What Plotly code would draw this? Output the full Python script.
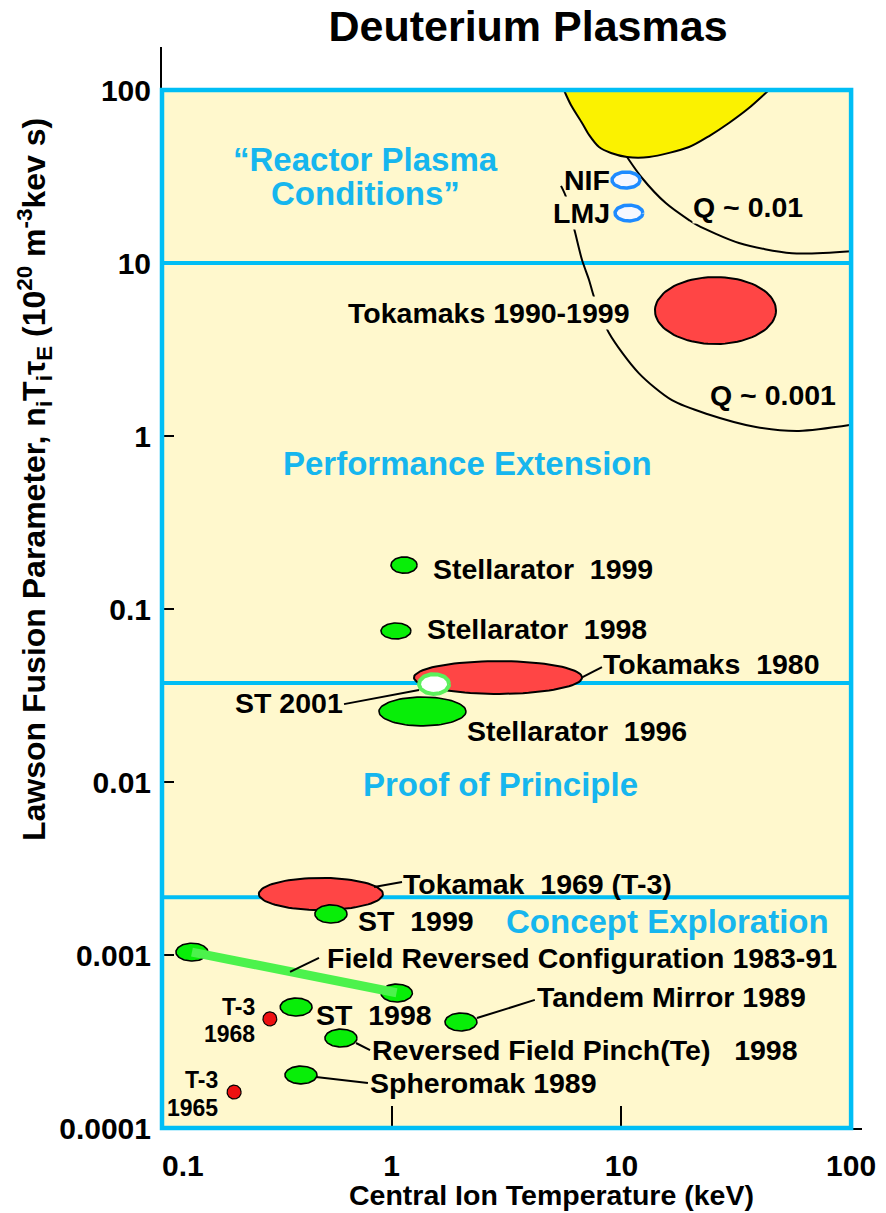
import numpy as np
import plotly.graph_objects as go

# ---------------- data ----------------
x_ticks = [0.1, 1, 10, 100]
x_tick_text = ["\u00a0\u00a0\u00a0\u00a0\u00a00.1", "1", "10", "100"]
y_ticks = [1e-4, 1e-3, 1e-2, 1e-1, 1, 10, 100]
y_tick_text = ["0.0001", "0.001", "0.01", "0.1", "1", "10", "100"]

# Lawson-parameter boundaries between the programme regions
region_bounds = [10, 0.0373, 0.00216]

# Experiments: temperature range (keV) and Lawson-parameter range
exp_names = ["Tokamaks 1990-1999", "Tokamaks 1980", "Stellarator 1999", "Stellarator 1998",
             "Stellarator 1996", "ST 2001", "Tokamak 1969 (T-3)", "ST 1999",
             "FRC 1983", "FRC 1991", "ST 1998", "Tandem Mirror 1989", "RFP 1998",
             "Spheromak 1989", "T-3 1968", "T-3 1965", "NIF", "LMJ"]
exp_kind = ["red", "red", "green", "green", "green", "ring_green", "red", "green",
            "green", "green", "green", "green", "green", "green", "dot", "dot",
            "ring_blue", "ring_blue"]
T_lo = [14.0, 1.25, 0.993, 0.898, 0.88, 1.315, 0.264, 0.463, 0.115, 0.898, 0.327, 1.706,
        0.512, 0.343, 0.275, 0.192, 9.1, 9.38]
T_hi = [47.1, 6.74, 1.29, 1.213, 2.106, 1.777, 0.916, 0.639, 0.1585, 1.23, 0.45, 2.35,
        0.706, 0.473, 0.316, 0.221, 12.05, 12.4]
L_lo = [3.4, 0.0323, 0.161, 0.0671, 0.0211, 0.0323, 0.00182, 0.00153, 0.000923, 0.000535,
        0.000444, 0.000364, 0.000294, 0.00018, 0.000389, 0.000147, 27.1, 17.5]
L_hi = [8.3, 0.050, 0.20, 0.083, 0.031, 0.042, 0.00279, 0.00195, 0.00117, 0.000679,
        0.000564, 0.000462, 0.000373, 0.000228, 0.000469, 0.000177, 33.6, 21.6]

# Field Reversed Configuration progression 1983-91
frc_T = [0.135, 1.05]
frc_L = [0.00104, 0.000605]

# Ignition-like region (yellow) boundary
ign_T = [5.62, 6.03, 6.74, 7.23, 7.99, 9.01, 10.58, 13.2, 19.7, 24.1, 29.4, 35.9, 43.9]
ign_L = [100, 81.9, 64.5, 55.0, 46.8, 43.2, 41.0, 41.0, 46.8, 54.2, 64.5, 78.7, 100]

# Q ~ 0.01 curve
q01_T = [10.58, 12.3, 15.6, 19.7, 21.3, 32.5, 55.3, 100]
q01_L = [41.0, 31.0, 22.2, 17.7, 16.6, 13.05, 11.4, 11.7]

# Q ~ 0.001 curve
q001_T = [5.46, 5.74, 6.28, 6.74, 7.23, 7.60, 8.83, 11.9, 16.6, 23.6, 38.5, 59.3, 100]
q001_L = [27.9, 24.1, 15.1, 10.4, 7.98, 6.36, 3.94, 2.31, 1.61, 1.34, 1.127, 1.07, 1.16]

# ---------------- styles ----------------
CYAN = "#00BEF5"
CYAN_TXT = "#16B6EE"
BG = "#FFF8CD"
FONT = "Liberation Sans, Arial, sans-serif"
PAGE_OFF = 8  # browser body margin

XR = [-1, -1 + 700 / 229.7]
YR = [-4, -4 + 1081 / 173.0]

fig = go.Figure()

# region boundary lines (below the marks)
for b in region_bounds:
    fig.add_trace(go.Scatter(x=[0.1, 100], y=[b, b], mode="lines",
                             line=dict(color=CYAN, width=4), hoverinfo="skip", showlegend=False))

# ignition region
fig.add_trace(go.Scatter(x=ign_T, y=ign_L, mode="lines", fill="toself", fillcolor="#FBF200",
                         line=dict(color="black", width=2, shape="spline", smoothing=0.8),
                         hoverinfo="skip", showlegend=False))
# Q curves
for qt, ql in [(q01_T, q01_L), (q001_T, q001_L)]:
    fig.add_trace(go.Scatter(x=qt, y=ql, mode="lines",
                             line=dict(color="black", width=2, shape="spline", smoothing=0.8),
                             hoverinfo="skip", showlegend=False))


def ellipse(tlo, thi, llo, lhi, n=90):
    cx = (np.log10(tlo) + np.log10(thi)) / 2
    a = (np.log10(thi) - np.log10(tlo)) / 2
    cy = (np.log10(llo) + np.log10(lhi)) / 2
    b = (np.log10(lhi) - np.log10(llo)) / 2
    t = np.linspace(0, 2 * np.pi, n)
    return 10 ** (cx + a * np.cos(t)), 10 ** (cy + b * np.sin(t))


style = {
    "red": dict(fill="#FF4545", line="black", w=2),
    "green": dict(fill="#08EE08", line="black", w=1.6),
    "ring_green": dict(fill="#FFFFFF", line="#5CF05C", w=4),
    "ring_blue": dict(fill="#F6F8FF", line="#1E8BFF", w=3.5),
    "dot": dict(fill="#EE1111", line="black", w=1.2),
}
for i in range(len(exp_names)):
    ex, ey = ellipse(T_lo[i], T_hi[i], L_lo[i], L_hi[i])
    s = style[exp_kind[i]]
    fig.add_trace(go.Scatter(x=ex, y=ey, mode="lines", fill="toself", fillcolor=s["fill"],
                             line=dict(color=s["line"], width=s["w"]), name=exp_names[i],
                             hoverinfo="name", showlegend=False))

# FRC progression bar
fig.add_trace(go.Scatter(x=frc_T, y=frc_L, mode="lines", line=dict(color="#4CF24C", width=9),
                         hoverinfo="skip", showlegend=False))

# leader lines (label positions)
leaders = [
    ((6.74, 0.0402), (8.23, 0.0462)),
    ((1.315, 0.034), (0.62, 0.0282)),
    ((0.838, 0.00247), (1.109, 0.00264)),
    ((0.361, 0.000798), (0.4825, 0.000962)),
    ((2.35, 0.000432), (4.2, 0.00055)),
    ((0.699, 0.00031), (0.805, 0.000282)),
    ((0.468, 0.000197), (0.788, 0.000182)),
]
for (a, b) in leaders:
    fig.add_trace(go.Scatter(x=[a[0], b[0]], y=[a[1], b[1]], mode="lines",
                             line=dict(color="black", width=2), hoverinfo="skip", showlegend=False))

# ---------------- labels ----------------
LS = 28.5
labels = [
    # text, T, L, xanchor, size, masked
    ("Tokamaks 1990-1999", 11.0, 5.14, "right", LS, True),
    ("NIF", 9.01, 30.2, "right", LS, False),
    ("LMJ", 9.01, 19.45, "right", LS, True),
    ("Q ~ 0.01", 20.3, 21.1, "left", LS, True),
    ("Q ~ 0.001", 24.1, 1.73, "left", LS, True),
    ("Stellarator  1999", 1.50, 0.170, "left", LS, False),
    ("Stellarator  1998", 1.41, 0.0766, "left", LS, False),
    ("Tokamaks  1980", 8.23, 0.0481, "left", LS, False),
    ("ST 2001", 0.619, 0.0286, "right", LS, False),
    ("Stellarator  1996", 2.106, 0.0197, "left", LS, False),
    ("Tokamak  1969 (T-3)", 1.109, 0.00257, "left", LS, False),
    ("ST  1999", 0.706, 0.00157, "left", LS, False),
    ("Field Reversed Configuration 1983-91", 0.518, 0.000962, "left", LS, False),
    ("Tandem Mirror 1989", 4.25, 0.000572, "left", LS, False),
    ("ST  1998", 0.463, 0.00045, "left", LS, False),
    ("Reversed Field Pinch(Te)   1998", 0.813, 0.000282, "left", LS, False),
    ("Spheromak 1989", 0.796, 0.000182, "left", LS, False),
    ("T-3", 0.2565, 0.0005, "right", 23, False),
    ("1968", 0.2565, 0.00035, "right", 23, False),
    ("T-3", 0.177, 0.000189, "right", 23, False),
    ("1965", 0.177, 0.000131, "right", 23, False),
]
annotations = []
for text, tx, ly, xa, size, masked in labels:
    annotations.append(dict(
        x=np.log10(tx), y=np.log10(ly), xref="x", yref="y", text=text, showarrow=False,
        xanchor=xa, yanchor="middle",
        font=dict(family=FONT, size=size, color="black", weight="bold"),
        bgcolor=BG if masked else None, borderpad=0))

region_labels = [
    ("\u201cReactor Plasma", 0.766, 39.6),
    ("Conditions\u201d", 0.766, 25.2),
    ("Performance Extension", 2.128, 0.698),
    ("Proof of Principle", 2.99, 0.00961),
    ("Concept Exploration", 15.8, 0.00157),
]
for text, tx, ly in region_labels:
    annotations.append(dict(
        x=np.log10(tx), y=np.log10(ly), xref="x", yref="y", text=text, showarrow=False,
        xanchor="center", yanchor="middle",
        font=dict(family=FONT, size=33, color=CYAN_TXT, weight="bold")))

# axis titles
annotations.append(dict(x=(551 - 162) / 700, y=(1128 - 1195) / 1081, xref="paper", yref="paper",
                        text="Central Ion Temperature (keV)", showarrow=False,
                        xanchor="center", yanchor="middle",
                        font=dict(family=FONT, size=28.5, color="black", weight="bold")))
annotations.append(dict(x=(35 - 162) / 700, y=(1128 - 480) / 1081, xref="paper", yref="paper",
                        text="Lawson Fusion Parameter, n<sub>i</sub>T<sub>i</sub>\u03c4<sub>E</sub> "
                             "(10<sup>20</sup> m<sup>-3</sup>kev s)",
                        showarrow=False, textangle=-90, xanchor="center", yanchor="middle",
                        font=dict(family=FONT, size=32, color="black", weight="bold")))

# outer box (paper coords derived from axis ranges)
px0 = (-1 - XR[0]) / (XR[1] - XR[0])
px1 = (2 - XR[0]) / (XR[1] - XR[0])
py0 = (-4 - YR[0]) / (YR[1] - YR[0])
py1 = (2 - YR[0]) / (YR[1] - YR[0])
shapes = [
    dict(type="rect", xref="paper", yref="paper", x0=px0, x1=px1, y0=py0, y1=py1,
         line=dict(color=BG, width=0), fillcolor=BG, layer="below"),
    dict(type="rect", xref="paper", yref="paper", x0=px0, x1=px1, y0=py0, y1=py1,
         line=dict(color=CYAN, width=4.5), fillcolor="rgba(0,0,0,0)", layer="above"),
]

W, H = 886 - PAGE_OFF, 1213 - PAGE_OFF
fig.update_layout(
    width=W, height=H,
    margin=dict(l=162 - PAGE_OFF, r=24, t=47 - PAGE_OFF, b=85, autoexpand=False),
    paper_bgcolor="white", plot_bgcolor="white",
    font=dict(family=FONT, color="black"),
    title=dict(text="Deuterium Plasmas", x=(528 - PAGE_OFF) / W, xref="container",
               xanchor="center", y=1 - (26 - PAGE_OFF) / H, yref="container", yanchor="middle",
               font=dict(family=FONT, size=43, color="black", weight="bold")),
    xaxis=dict(type="log", range=XR, tickvals=x_ticks, ticktext=x_tick_text,
               ticks="inside", ticklen=22, tickwidth=1.5, tickcolor="black",
               showgrid=False, zeroline=False, showline=True, linecolor="black", linewidth=2,
               layer="below traces", ticklabelstandoff=10,
               tickfont=dict(family=FONT, size=30, color="black", weight="bold")),
    yaxis=dict(type="log", range=YR, tickvals=y_ticks, ticktext=y_tick_text,
               ticks="inside", ticklen=12, tickwidth=1.5, tickcolor="black",
               showgrid=False, zeroline=False, showline=True, linecolor="black", linewidth=2,
               layer="below traces", ticklabelstandoff=3,
               tickfont=dict(family=FONT, size=30, color="black", weight="bold")),
    annotations=annotations,
    shapes=shapes,
    showlegend=False,
)

fig.write_html("out.html")
